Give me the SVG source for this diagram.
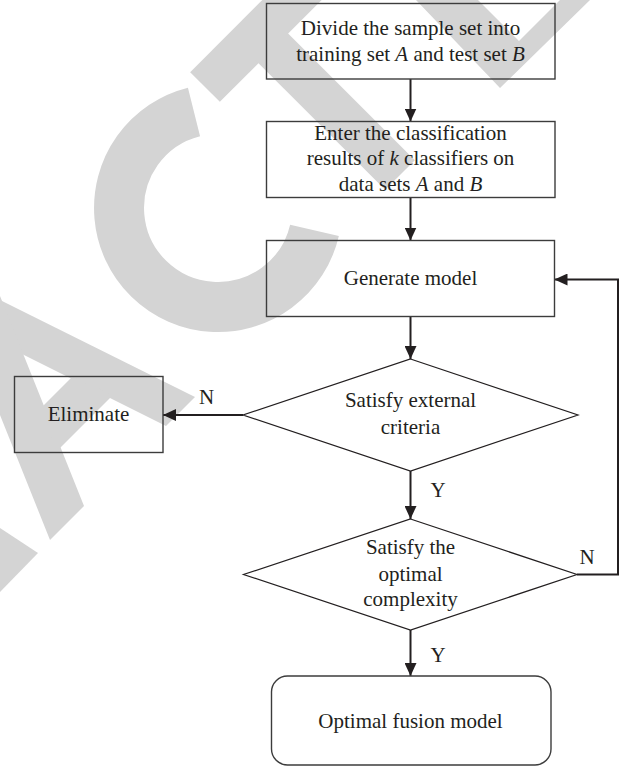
<svg xmlns="http://www.w3.org/2000/svg" width="621" height="767" viewBox="0 0 621 767">
<defs>
<style>
.wm{fill:#d4d4d4;stroke:none}
.wms{fill:none;stroke:#d4d4d4;stroke-linecap:butt}
.box{fill:none;stroke:#3c3c3c;stroke-width:1.4}
.dia{fill:none;stroke:#231f20;stroke-width:1.2}
.con{fill:none;stroke:#231f20;stroke-width:2}
text{font-family:"Liberation Serif","Times New Roman",serif;font-size:21px;fill:#231f20}
.c{text-anchor:middle}
.i{font-style:italic}
</style>
<marker id="ah" markerUnits="userSpaceOnUse" markerWidth="13" markerHeight="12" refX="13" refY="6" orient="auto">
<path d="M0,0 L13,6 L0,12 z" fill="#231f20"/>
</marker>
</defs>
<rect width="621" height="767" fill="#ffffff"/>
<g id="watermark">
<polygon class="wm" points="0,528 38,553 0,592"/>
<polygon class="wm" points="0,300 195,397 166,426 0,343"/>
<polygon class="wm" points="0,296 84,506 50,540 0,415"/>
<polygon class="wm" points="38,411 72,377 113,395 58,450"/>
<path class="wms" stroke-width="50" d="M194,112 A99,99 0 1 0 314.5,230.3"/>
<path class="wms" stroke-width="42" d="M205,87 L325,-33"/>
<path class="wms" stroke-width="42" d="M258,33 L400,175"/>
<polygon class="wm" points="416,0 500,88 590,0 560,0 519,41 478,0"/>
</g>
<g id="connectors">
<line class="con" x1="410.5" y1="79" x2="410.5" y2="121.5" marker-end="url(#ah)"/>
<line class="con" x1="410.5" y1="197.5" x2="410.5" y2="240.5" marker-end="url(#ah)"/>
<line class="con" x1="410.5" y1="316.5" x2="410.5" y2="359" marker-end="url(#ah)"/>
<line class="con" x1="243" y1="415" x2="163" y2="415" marker-end="url(#ah)"/>
<line class="con" x1="410.5" y1="471" x2="410.5" y2="519" marker-end="url(#ah)"/>
<polyline class="con" points="577,574.5 618,574.5 618,279.5 554.5,279.5" marker-end="url(#ah)"/>
<line class="con" x1="410.5" y1="630" x2="410.5" y2="676" marker-end="url(#ah)"/>
<text x="206.5" y="404" class="c">N</text>
<text x="438" y="497" class="c">Y</text>
<text x="587" y="564" class="c">N</text>
<text x="438" y="662" class="c">Y</text>
</g>
<g id="n1">
<rect class="box" x="266.5" y="3.5" width="288.5" height="75.5"/>
<text x="410.5" y="35" class="c">Divide the sample set into</text>
<text x="410.5" y="61" class="c">training set <tspan class="i">A</tspan> and test set <tspan class="i">B</tspan></text>
</g>
<g id="n2">
<rect class="box" x="266.5" y="121.5" width="288.5" height="76"/>
<text x="410.5" y="139.5" class="c">Enter the classification</text>
<text x="410.5" y="165" class="c">results of <tspan class="i">k</tspan> classifiers on</text>
<text x="410.5" y="190.5" class="c">data sets <tspan class="i">A</tspan> and <tspan class="i">B</tspan></text>
</g>
<g id="n3">
<rect class="box" x="266.5" y="240.5" width="288" height="76"/>
<text x="410.5" y="285" class="c">Generate model</text>
</g>
<g id="n4">
<polygon class="dia" points="410.5,359 578,415 410.5,471 243,415"/>
<text x="410.5" y="407" class="c">Satisfy external</text>
<text x="410.5" y="433.5" class="c">criteria</text>
</g>
<g id="n5">
<rect class="box" x="14.5" y="376.5" width="148.5" height="76"/>
<text x="88.5" y="420.5" class="c">Eliminate</text>
</g>
<g id="n6">
<polygon class="dia" points="410.5,519 577,574.5 410.5,630 243.5,574.5"/>
<text x="410.5" y="554" class="c">Satisfy the</text>
<text x="410.5" y="580.5" class="c">optimal</text>
<text x="410.5" y="605.5" class="c">complexity</text>
</g>
<g id="n7">
<rect class="box" x="271.5" y="676" width="279.5" height="89" rx="16" ry="16"/>
<text x="410.5" y="728" class="c">Optimal fusion model</text>
</g>
</svg>
